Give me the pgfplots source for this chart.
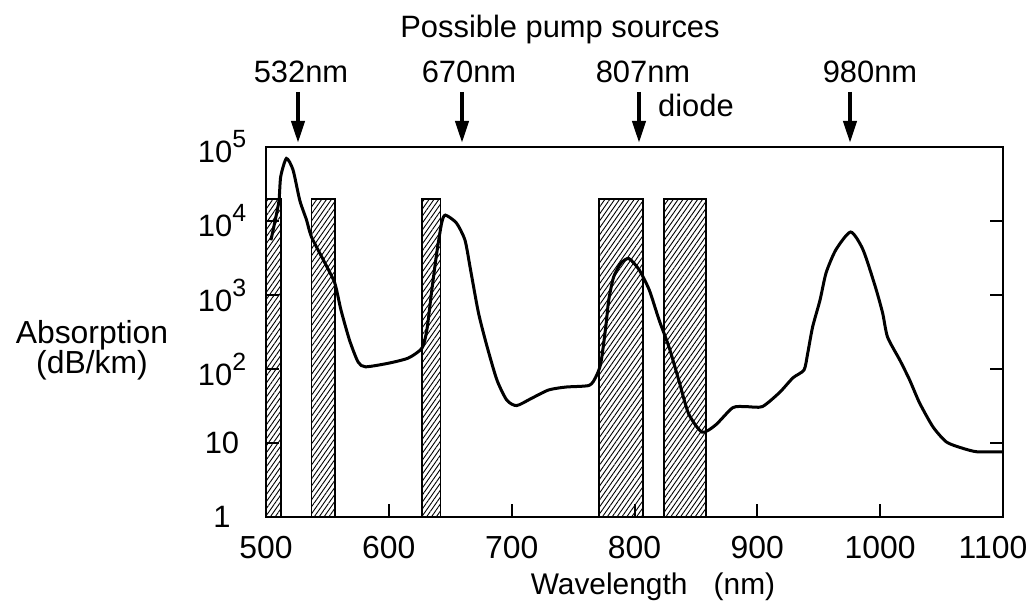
\documentclass[border=0pt]{standalone}
\usepackage{fontspec}
\setmainfont{Liberation Sans}
\usepackage{pgfplots}
\pgfplotsset{compat=1.18}
\usetikzlibrary{arrows.meta,patterns.meta}

\newcommand{\pw}[1]{10\raisebox{15bp}{\fontsize{25}{25}\selectfont #1}}

\begin{document}
\begin{tikzpicture}[x=1bp,y=1bp]
\useasboundingbox (0,0) rectangle (1034,603);
\begin{axis}[
  at={(266bp,86bp)}, anchor=south west,
  width=737bp, height=370bp, scale only axis,
  xmin=500, xmax=1100,
  ymode=log, ymin=1, ymax=1e5,
  axis line style={line width=2bp},
  every tick/.style={line width=2bp, black},
  major tick length=13bp,
  tick align=inside,
  xtick pos=bottom, ytick pos=both,
  minor tick num=0, yminorticks=false,
  xtick={500,600,700,800,900,1000,1100},
  xticklabels={500,600,700,800,900,1000,\hspace*{-20bp}1100},
  ytick={1,10,100,1000,10000,100000},
  yticklabels={1,10,\pw{2},\pw{3},\pw{4},\pw{5}},
  xticklabel style={font=\fontsize{32}{32}\selectfont, anchor=center, yshift=-31bp},
  yticklabel style={font=\fontsize{31}{31}\selectfont, anchor=center, xshift=-44bp},
]
\addplot[draw=black, line width=1.8bp, pattern={Lines[angle=55,distance=4bp,line width=0.9bp]}]
  coordinates {(500,1) (500,2e4) (512.5,2e4) (512.5,1)} -- cycle;
\addplot[draw=black, line width=1.8bp, pattern={Lines[angle=55,distance=4bp,line width=0.9bp]}]
  coordinates {(537,1) (537,2e4) (556,2e4) (556,1)} -- cycle;
\addplot[draw=black, line width=1.8bp, pattern={Lines[angle=55,distance=4bp,line width=0.9bp]}]
  coordinates {(627,1) (627,2e4) (642,2e4) (642,1)} -- cycle;
\addplot[draw=black, line width=1.8bp, pattern={Lines[angle=55,distance=4bp,line width=0.9bp]}]
  coordinates {(771,1) (771,2e4) (807,2e4) (807,1)} -- cycle;
\addplot[draw=black, line width=1.8bp, pattern={Lines[angle=55,distance=4bp,line width=0.9bp]}]
  coordinates {(824,1) (824,2e4) (858,2e4) (858,1)} -- cycle;
\addplot[black, line width=3bp, smooth, tension=0.4, mark=none] coordinates {
(504,5500) (508,11200) (510.6,19000) (512,40000) (516.6,70000) (522,49000)
(527.5,19000) (533,10300) (537,6100) (548,2700) (556,1450) (561,630) (568,245)
(575,124) (581,107) (600,120) (616,141) (627,192) (631,340) (635,1170) (639,3700)
(643,9400) (646,12000) (655,9400) (662,5500) (666.5,2200) (673,570) (680,200)
(688,71) (696,38) (704,32) (716,40) (730,52) (744,57) (763,60) (768.5,78)
(772.6,120) (776.6,370) (779,850) (783,1750) (789,2700) (795.5,3100) (803.7,2200)
(812,1170) (820,460) (828,200) (836,71) (844,25) (855,14) (866,17.5) (880,30)
(891,31) (904,31) (918,48) (929,76) (938,97) (941,163) (945,370) (951,850)
(956,2000) (964,4100) (976,7100) (986,4100) (996,1300) (1002,570) (1006,270)
(1016,132) (1024,71) (1032,35) (1043,16.5) (1054,10.3) (1067,8.5) (1079,7.6) (1100,7.6)
};
\end{axis}
% axis labels
\node[anchor=center, align=center, inner sep=0pt, font=\fontsize{32}{30}\selectfont] at (92,253) {Absorption\\(dB/km)};
\node[anchor=base, font=\fontsize{30}{30}\selectfont] at (653,8) {Wavelength\hspace{0.6em} (nm)};
% pump source annotations
\node[anchor=base, font=\fontsize{31}{31}\selectfont] at (560,565) {Possible pump sources};
\begin{scope}[font=\fontsize{31}{31}\selectfont]
\node[anchor=base] at (301,520) {532nm};
\node[anchor=base] at (469,520) {670nm};
\node[anchor=base] at (643,520) {807nm};
\node[anchor=base] at (870,520) {980nm};
\node[anchor=base west, inner sep=0pt] at (658,486) {diode};
\end{scope}
\foreach \ax in {298,462,639,850}{
  \draw[line width=4bp, -{Triangle[width=13bp,length=22bp]}] (\ax,511) -- (\ax,460);
}
\end{tikzpicture}
\end{document}
